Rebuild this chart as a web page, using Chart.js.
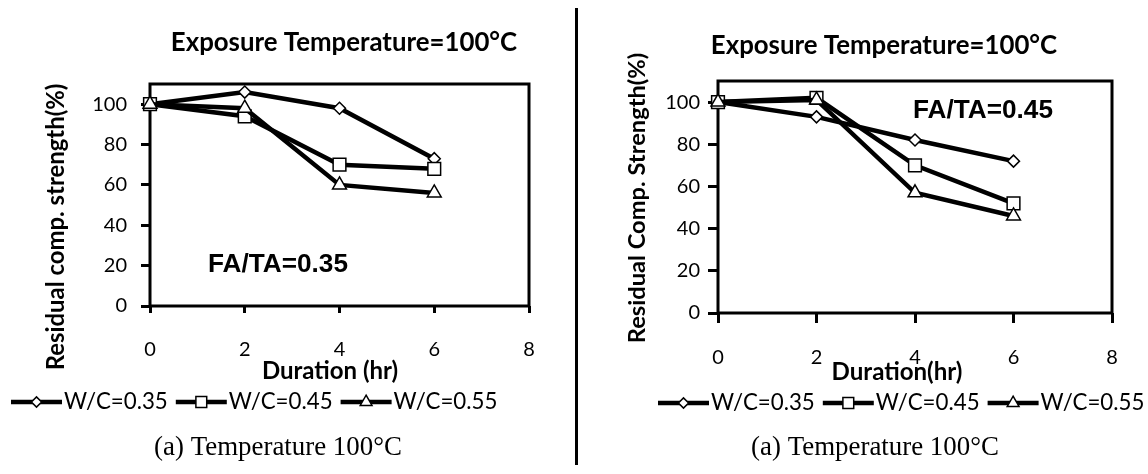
<!DOCTYPE html>
<html lang="en">
<head>
<meta charset="UTF-8" />
<title>Residual compressive strength after exposure to 100°C</title>
<style>
  body { margin: 0; background: #fff; }
  .page { position: relative; width: 1148px; height: 474px; overflow: hidden; }
  canvas { position: absolute; top: 0; }
  #chartA { left: 0; }
  #chartB { left: 578px; }
  .divider { position: absolute; left: 575px; top: 8px; width: 3px; height: 457px; background: #000; }
</style>
<script src="https://cdn.jsdelivr.net/npm/chart.js"></script>
</head>
<body>
<div class="page">
  <canvas id="chartA" width="574" height="474"></canvas>
  <div class="divider"></div>
  <canvas id="chartB" width="570" height="474"></canvas>
</div>
<script>
const durations = [0, 2, 4, 6];
const xTicks = [0, 2, 4, 6, 8];
const yTicks = [0, 20, 40, 60, 80, 100];
const seriesNames = ['W/C=0.35', 'W/C=0.45', 'W/C=0.55'];

// FA/TA = 0.35
const fa35_wc35 = [100, 106, 98, 73];
const fa35_wc45 = [100, 94, 70, 68];
const fa35_wc55 = [100, 98, 60, 56];

// FA/TA = 0.45
const fa45_wc35 = [100, 93, 82, 72];
const fa45_wc45 = [100, 102, 70, 52];
const fa45_wc55 = [100, 101, 57, 46];

const pointStyles = ['rectRot', 'rect', 'triangle'];
const pointRadii = [6, 9, 8];

const SANS = 'Lato, "Open Sans", sans-serif';
const ARIAL = '"Liberation Sans", Arial, sans-serif';
const SERIF = '"Liberation Serif", "Times New Roman", serif';

// pick a font size so the text comes out at the given width
function fitFont(ctx, text, weight, family, width) {
  ctx.font = weight + ' 100px ' + family;
  const size = 100 * width / ctx.measureText(text).width;
  return weight + ' ' + size.toFixed(1) + 'px ' + family;
}

const figureText = {
  id: 'figureText',
  beforeDatasetsDraw(chart) {
    const { ctx, chartArea: a } = chart;
    ctx.save();
    ctx.strokeStyle = '#000';
    ctx.lineWidth = 3;
    ctx.strokeRect(a.left, a.top, a.right - a.left, a.bottom - a.top);
    ctx.restore();
  },
  afterDraw(chart, args, o) {
    const ctx = chart.ctx;
    ctx.save();
    ctx.fillStyle = '#000';
    ctx.strokeStyle = '#000';
    ctx.textBaseline = 'middle';
    ctx.textAlign = 'center';

    ctx.font = fitFont(ctx, o.title, 'bold', SANS, o.titleWidth);
    ctx.fillText(o.title, o.titleX, o.titleY);

    ctx.font = fitFont(ctx, o.xTitle, 'bold', SANS, o.xTitleWidth);
    ctx.fillText(o.xTitle, o.xTitleX, o.xTitleY);

    ctx.font = fitFont(ctx, o.caption, 'normal', SERIF, o.captionWidth);
    ctx.fillText(o.caption, o.captionX, o.captionY);

    ctx.save();
    ctx.translate(o.yTitleX, o.yTitleY);
    ctx.rotate(-Math.PI / 2);
    ctx.font = fitFont(ctx, o.yTitle, 'bold', SANS, o.yTitleWidth);
    ctx.fillText(o.yTitle, 0, 0);
    ctx.restore();

    ctx.textAlign = 'left';
    ctx.font = fitFont(ctx, o.note, 'bold', ARIAL, o.noteWidth);
    ctx.fillText(o.note, o.noteX, o.noteY);

    // legend: line with marker, then label
    const legendFont = fitFont(ctx, seriesNames[0], 'normal', SANS, 104);
    let x = o.legendX;
    const y = o.legendY;
    chart.data.datasets.forEach(ds => {
      ctx.lineWidth = 4.5;
      ctx.beginPath();
      ctx.moveTo(x, y);
      ctx.lineTo(x + 51, y);
      ctx.stroke();
      ctx.fillStyle = '#fff';
      ctx.lineWidth = 1.5;
      Chart.helpers.drawPoint(ctx, {
        pointStyle: ds.pointStyle, radius: ds.pointRadius * 0.85, rotation: 0, borderWidth: 1.5
      }, x + 25.5, y);
      ctx.fillStyle = '#000';
      ctx.font = legendFont;
      ctx.fillText(ds.label, x + 53, y);
      x += 53 + ctx.measureText(ds.label).width + 8;
    });
    ctx.restore();
  }
};

function makeChart(id, values, layout, text) {
  return new Chart(document.getElementById(id), {
    type: 'line',
    data: {
      datasets: values.map((v, i) => ({
        label: seriesNames[i],
        data: durations.map((d, k) => ({ x: d, y: v[k] })),
        borderColor: '#000',
        borderWidth: 4.5,
        pointStyle: pointStyles[i],
        pointRadius: pointRadii[i],
        pointBackgroundColor: '#fff',
        pointBorderColor: '#000',
        pointBorderWidth: 1.5,
        order: 3 - i,
        clip: false
      }))
    },
    options: {
      responsive: false,
      animation: false,
      events: [],
      layout: { padding: { left: 0, top: layout.top, right: layout.right, bottom: 0 } },
      plugins: { legend: { display: false }, tooltip: { enabled: false }, figureText: text },
      scales: {
        x: {
          type: 'linear',
          min: 0,
          max: 8,
          afterBuildTicks: s => { s.ticks = xTicks.map(v => ({ value: v })); },
          afterFit: s => { s.height = layout.xHeight; },
          grid: { drawOnChartArea: false, tickLength: layout.xTickLen, tickColor: '#000', tickWidth: 3 },
          border: { display: false },
          ticks: { color: '#000', font: { family: SANS, size: 20 }, padding: layout.xPad, maxRotation: 0 }
        },
        y: {
          type: 'linear',
          min: 0,
          max: 110,
          afterBuildTicks: s => { s.ticks = yTicks.map(v => ({ value: v })); },
          afterFit: s => { s.width = layout.yWidth; },
          grid: { drawOnChartArea: false, tickLength: layout.yTickLen, tickColor: '#000', tickWidth: 3 },
          border: { display: false },
          ticks: { color: '#000', font: { family: SANS, size: 20 }, padding: layout.yPad }
        }
      }
    },
    plugins: [figureText]
  });
}

makeChart('chartA', [fa35_wc35, fa35_wc45, fa35_wc55],
  { top: 84, right: 45, xHeight: 168, yWidth: 150, xTickLen: 7, xPad: 25, yTickLen: 9, yPad: 14 },
  {
    title: 'Exposure Temperature=100°C', titleX: 344, titleY: 43, titleWidth: 346,
    xTitle: 'Duration (hr)', xTitleX: 330, xTitleY: 371, xTitleWidth: 136,
    yTitle: 'Residual comp. strength(%)', yTitleX: 56, yTitleY: 227, yTitleWidth: 287,
    note: 'FA/TA=0.35', noteX: 208, noteY: 265, noteWidth: 140,
    caption: '(a) Temperature 100°C', captionX: 278, captionY: 448, captionWidth: 248,
    legendX: 11, legendY: 402
  });

makeChart('chartB', [fa45_wc35, fa45_wc45, fa45_wc55],
  { top: 81, right: 36, xHeight: 161, yWidth: 140, xTickLen: 10, xPad: 23, yTickLen: 10, yPad: 8 },
  {
    title: 'Exposure Temperature=100°C', titleX: 306, titleY: 46, titleWidth: 346,
    xTitle: 'Duration(hr)', xTitleX: 319, xTitleY: 372, xTitleWidth: 131,
    yTitle: 'Residual Comp. Strength(%)', yTitleX: 59, yTitleY: 198, yTitleWidth: 291,
    note: 'FA/TA=0.45', noteX: 335, noteY: 111, noteWidth: 140,
    caption: '(a) Temperature 100°C', captionX: 297, captionY: 448, captionWidth: 248,
    legendX: 80, legendY: 403
  });
</script>
</body>
</html>
